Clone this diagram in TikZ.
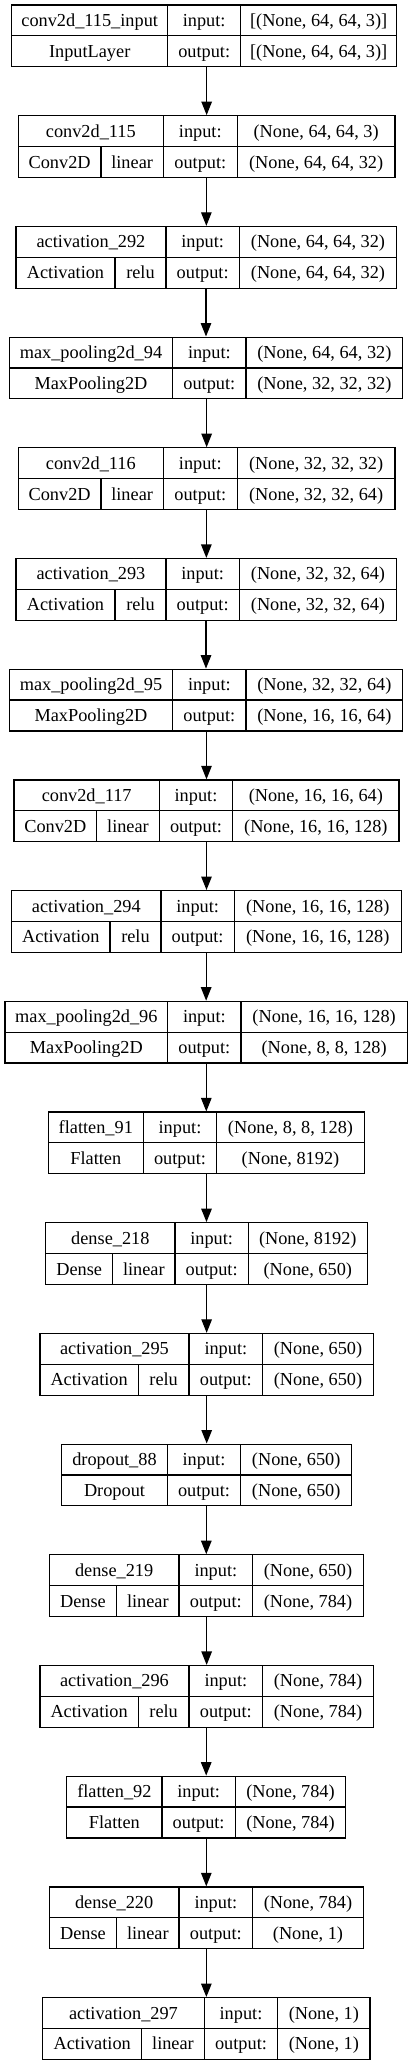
\documentclass[tikz,border=0pt]{standalone}
\usepackage{fontspec}
\setmainfont{Liberation Serif}
\usepackage{tikz}
\usetikzlibrary{arrows.meta}
\tikzset{
	layerbox/.style={draw, line width=1.2pt, minimum height=61.7, inner sep=0pt},
	cell/.style={font=\fontsize{18.3}{22}\selectfont, inner sep=0pt, text height=12.1pt, text depth=0pt},
	arr/.style={line width=1.2pt, -{Triangle[length=13.5pt,width=10.5pt]}}
}
\def\layer#1#2#3#4#5#6#7#8#9{%
	\def\lname{#1}\def\ltop{#2}\def\lleft{#3}\def\ldone{#4}%
	\node[layerbox, minimum width={#6-#3}] (#1) at ({(#3+#6)/2},{#2+30.85}) {};
	\draw[line width=1.2pt] ({#3},{#2+30.85}) -- ({#6},{#2+30.85});
	\draw[line width=1.2pt] ({#4},{#2}) -- ({#4},{#2+61.7});
	\draw[line width=1.2pt] ({#5},{#2}) -- ({#5},{#2+61.7});
	\node[cell] (#1t) at ({(#3+#4)/2},{#2+15.4}) {#7};
	\node[cell] (#1i) at ({(#4+#5)/2},{#2+15.4}) {input:};
	\node[cell] (#1a) at ({(#5+#6)/2},{#2+15.4}) {#8};
	\node[cell] (#1o) at ({(#4+#5)/2},{#2+46.3}) {output:};
	\node[cell] (#1b) at ({(#5+#6)/2},{#2+46.3}) {#9};
}
\def\plainkind#1{\node[cell] (\lname k) at ({(\lleft+\ldone)/2},{\ltop+46.3}) {#1};}
\def\actkind#1#2#3{%
	\draw[line width=1.2pt] ({#1},{\ltop+30.85}) -- ({#1},{\ltop+61.7});
	\node[cell] (\lname k) at ({(\lleft+#1)/2},{\ltop+46.3}) {#2};
	\node[cell] (\lname f) at ({(#1+\ldone)/2},{\ltop+46.3}) {#3};
}

\begin{document}
\begin{tikzpicture}[x=1pt, y=-1pt]
			\fill[white] (0,0) rectangle (413,2065);
			
			\layer{L1}{5}{11.7}{167.7}{240.7}{396.7}{conv2d\_115\_input}{[(None, 64, 64, 3)]}{[(None, 64, 64, 3)]}
			\plainkind{InputLayer}
			\layer{L2}{115.7}{18.3}{163.3}{237.3}{395}{conv2d\_115}{(None, 64, 64, 3)}{(None, 64, 64, 32)}
			\actkind{101}{Conv2D}{linear}
			\layer{L3}{226.4}{16}{166}{239.3}{396.7}{activation\_292}{(None, 64, 64, 32)}{(None, 64, 64, 32)}
			\actkind{115}{Activation}{relu}
			\layer{L4}{337.1}{9.3}{172.7}{246}{402.7}{max\_pooling2d\_94}{(None, 64, 64, 32)}{(None, 32, 32, 32)}
			\plainkind{MaxPooling2D}
			\layer{L5}{447.8}{18.3}{163.3}{237.3}{395}{conv2d\_116}{(None, 32, 32, 32)}{(None, 32, 32, 64)}
			\actkind{101}{Conv2D}{linear}
			\layer{L6}{558.5}{16}{166}{239.3}{396.7}{activation\_293}{(None, 32, 32, 64)}{(None, 32, 32, 64)}
			\actkind{115}{Activation}{relu}
			\layer{L7}{669.2}{9.3}{172.7}{246}{402.7}{max\_pooling2d\_95}{(None, 32, 32, 64)}{(None, 16, 16, 64)}
			\plainkind{MaxPooling2D}
			\layer{L8}{779.9}{14}{159.3}{232.7}{399}{conv2d\_117}{(None, 16, 16, 64)}{(None, 16, 16, 128)}
			\actkind{96.7}{Conv2D}{linear}
			\layer{L9}{890.6}{11.7}{161}{234.3}{401.3}{activation\_294}{(None, 16, 16, 128)}{(None, 16, 16, 128)}
			\actkind{110}{Activation}{relu}
			\layer{L10}{1001.3}{5}{167.7}{241}{407.3}{max\_pooling2d\_96}{(None, 16, 16, 128)}{(None, 8, 8, 128)}
			\plainkind{MaxPooling2D}
			\layer{L11}{1112}{48.3}{143.3}{216.7}{364.3}{flatten\_91}{(None, 8, 8, 128)}{(None, 8192)}
			\plainkind{Flatten}
			\layer{L12}{1222.7}{45.7}{175}{248.3}{367.3}{dense\_218}{(None, 8192)}{(None, 650)}
			\actkind{112.7}{Dense}{linear}
			\layer{L13}{1333.4}{40}{189}{262.7}{373.3}{activation\_295}{(None, 650)}{(None, 650)}
			\actkind{138.3}{Activation}{relu}
			\layer{L14}{1444.1}{61.7}{167.3}{240.7}{351.7}{dropout\_88}{(None, 650)}{(None, 650)}
			\plainkind{Dropout}
			\layer{L15}{1554.8}{49.3}{179}{252.7}{363.3}{dense\_219}{(None, 650)}{(None, 784)}
			\actkind{116.7}{Dense}{linear}
			\layer{L16}{1665.5}{40}{189}{262.7}{373.3}{activation\_296}{(None, 784)}{(None, 784)}
			\actkind{138.3}{Activation}{relu}
			\layer{L17}{1776.2}{66.7}{162}{235.3}{345.7}{flatten\_92}{(None, 784)}{(None, 784)}
			\plainkind{Flatten}
			\layer{L18}{1886.9}{49.3}{179}{252.7}{363.3}{dense\_220}{(None, 784)}{(None, 1)}
			\actkind{116.7}{Dense}{linear}
			\layer{L19}{1997.6}{42.7}{204.3}{277.7}{370}{activation\_297}{(None, 1)}{(None, 1)}
			\actkind{141.7}{Activation}{linear}
			
			\draw[arr] (L2.north |- L1.south) -- (L2.north);
			\draw[arr] (L3.north |- L2.south) -- (L3.north);
			\draw[arr] (L4.north |- L3.south) -- (L4.north);
			\draw[arr] (L5.north |- L4.south) -- (L5.north);
			\draw[arr] (L6.north |- L5.south) -- (L6.north);
			\draw[arr] (L7.north |- L6.south) -- (L7.north);
			\draw[arr] (L8.north |- L7.south) -- (L8.north);
			\draw[arr] (L9.north |- L8.south) -- (L9.north);
			\draw[arr] (L10.north |- L9.south) -- (L10.north);
			\draw[arr] (L11.north |- L10.south) -- (L11.north);
			\draw[arr] (L12.north |- L11.south) -- (L12.north);
			\draw[arr] (L13.north |- L12.south) -- (L13.north);
			\draw[arr] (L14.north |- L13.south) -- (L14.north);
			\draw[arr] (L15.north |- L14.south) -- (L15.north);
			\draw[arr] (L16.north |- L15.south) -- (L16.north);
			\draw[arr] (L17.north |- L16.south) -- (L17.north);
			\draw[arr] (L18.north |- L17.south) -- (L18.north);
			\draw[arr] (L19.north |- L18.south) -- (L19.north);
		\end{tikzpicture}
\end{document}
